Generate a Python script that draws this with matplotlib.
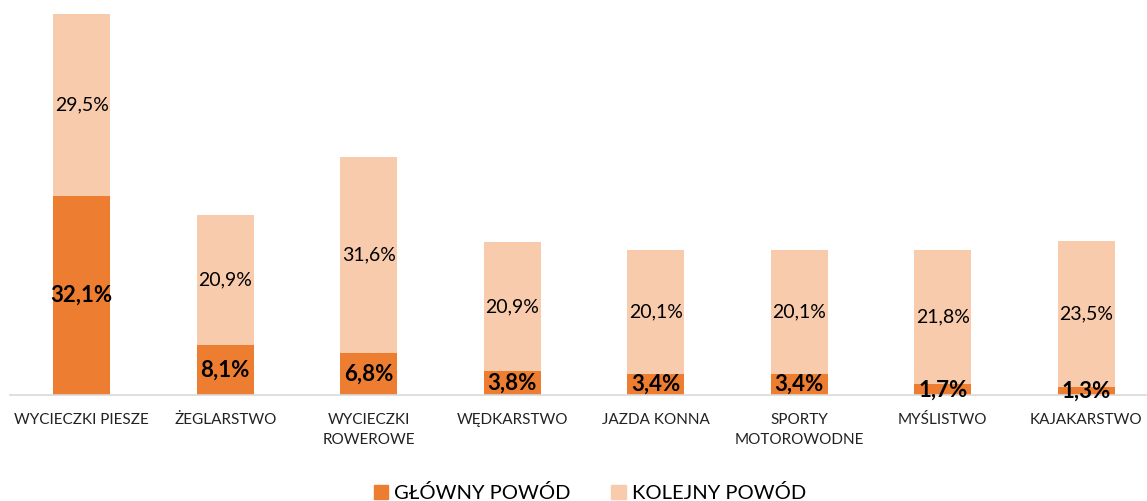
import matplotlib
matplotlib.use("Agg")
import matplotlib.pyplot as plt
from matplotlib.patches import Patch

plt.rcParams['font.family'] = ['Lato', 'DejaVu Sans']

categories = ["WYCIECZKI PIESZE", "ŻEGLARSTWO", "WYCIECZKI\nROWEROWE", "WĘDKARSTWO",
              "JAZDA KONNA", "SPORTY\nMOTOROWODNE", "MYŚLISTWO", "KAJAKARSTWO"]
glowny = [32.1, 8.1, 6.8, 3.8, 3.4, 3.4, 1.7, 1.3]
kolejny = [29.5, 20.9, 31.6, 20.9, 20.1, 20.1, 21.8, 23.5]
series_names = ["GŁÓWNY POWÓD", "KOLEJNY POWÓD"]

c_dark = "#ED7D31"
c_light = "#F8CBAD"

W, H = 1147, 501
fig = plt.figure(figsize=(W/100, H/100), dpi=100)
ax = fig.add_axes([10/W, 106/H, 1137/W, 395/H])
step = 143.5
ax.set_xlim(-0.5, -0.5 + 1137/step)
ax.set_ylim(0, 395/6.19)

x = list(range(len(categories)))
bw = 57/step
ax.bar(x, glowny, width=bw, color=c_dark, label=series_names[0])
ax.bar(x, kolejny, width=bw, bottom=glowny, color=c_light, label=series_names[1])

def fmt(v):
    return f"{v:.1f}%".replace(".", ",")

for i in x:
    ax.text(i, glowny[i]/2, fmt(glowny[i]), ha='center', va='center',
            fontsize=16, fontweight='bold', color='black')
    ax.text(i, glowny[i] + kolejny[i]/2, fmt(kolejny[i]), ha='center', va='center',
            fontsize=14, color='black')

for s in ['top', 'right', 'left']:
    ax.spines[s].set_visible(False)
ax.spines['bottom'].set_color('#D9D9D9')
ax.spines['bottom'].set_linewidth(1.2)
ax.set_yticks([])
ax.set_xticks(x)
ax.set_xticklabels(categories, fontsize=11, color='#222222', linespacing=1.55)
ax.tick_params(axis='x', length=0, pad=13)

handles = [Patch(color=c_dark), Patch(color=c_light)]
fig.legend(handles, series_names, loc='center', bbox_to_anchor=(590/W, 1 - 493/H),
           ncol=2, frameon=False, fontsize=14.5, handlelength=0.72, handleheight=0.72,
           handletextpad=0.3, columnspacing=2.0)

fig.savefig("out.png", dpi=100)
